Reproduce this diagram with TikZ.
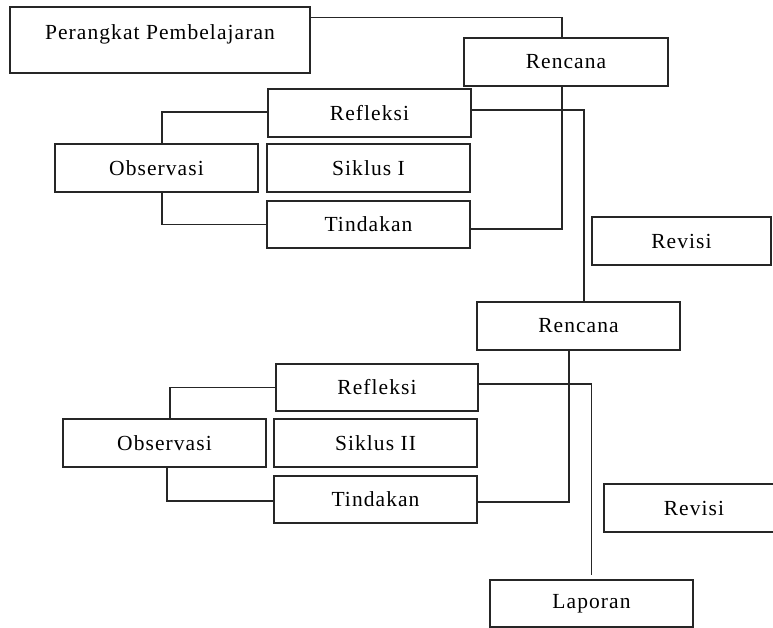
\documentclass[tikz,border=0pt]{standalone}
\usepackage{fontspec}
\setmainfont[LetterSpace=5]{Liberation Serif}
\usetikzlibrary{calc}
\begin{document}
\begin{tikzpicture}[x=1pt,y=-1pt,
  box/.style={draw=black!85, line width=1.1pt, inner sep=0pt, font=\fontsize{21.5}{24}\selectfont},
  wire/.style={draw=black!85, line width=1.1pt}]
\useasboundingbox (0,0) rectangle (773,628);
\clip (0,0) rectangle (773,628);
% boxes
\node[box, minimum width=300pt, minimum height=66pt] (pp) at (160,40) {Perangkat Pembelajaran\rule[-16pt]{0pt}{16pt}};
\node[box, minimum width=204pt, minimum height=48pt] (r1) at (566,62) {Rencana};
\node[box, minimum width=203pt, minimum height=48pt] (ref1) at (369.5,113) {Refleksi};
\node[box, minimum width=203pt, minimum height=48pt] (obs1) at (156.5,168) {Observasi};
\node[box, minimum width=203pt, minimum height=48pt] (sik1) at (368.5,168) {Siklus I};
\node[box, minimum width=203pt, minimum height=47pt] (tin1) at (368.5,224.5) {Tindakan};
\node[box, minimum width=179pt, minimum height=48pt] (rev1) at (681.5,241) {Revisi};
\node[box, minimum width=203pt, minimum height=48pt] (r2) at (578.5,326) {Rencana};
\node[box, minimum width=202pt, minimum height=47pt] (ref2) at (377,387.5) {Refleksi};
\node[box, minimum width=203pt, minimum height=48pt] (obs2) at (164.5,443) {Observasi};
\node[box, minimum width=203pt, minimum height=48pt] (sik2) at (375.5,443) {Siklus II};
\node[box, minimum width=203pt, minimum height=47pt] (tin2) at (375.5,499.5) {Tindakan};
\node[box, minimum width=180pt, minimum height=48pt] (rev2) at (694,508) {Revisi};
\node[box, minimum width=203pt, minimum height=47pt] (lap) at (591.5,603.5) {Laporan};
% connectors
\draw[wire] ($(pp.north east)+(0,11)$) -| ($(r1.north)+(-4,0)$);
\draw[wire] ($(r1.south)+(-4,0)$) |- ($(tin1.east)+(0,4.5)$);
\draw[wire] ($(ref1.east)+(0,-3)$) -| ($(r2.north)+(5.5,0)$);
\draw[wire] ($(obs1.north)+(5.5,0)$) |- ($(ref1.west)+(0,-1)$);
\draw[wire] ($(obs1.south)+(5.5,0)$) |- (tin1.west);
\draw[wire] ($(r2.south)+(-9.5,0)$) |- ($(tin2.east)+(0,2.5)$);
\coordinate (lapend) at ($(lap.north)+(0,-4)$);
\draw[wire] ($(ref2.east)+(0,-3.5)$) -| (lapend);
\draw[wire] ($(obs2.north)+(5.5,0)$) |- (ref2.west);
\draw[wire] ($(obs2.south)+(2.5,0)$) |- ($(tin2.west)+(0,1.5)$);
\end{tikzpicture}
\end{document}
